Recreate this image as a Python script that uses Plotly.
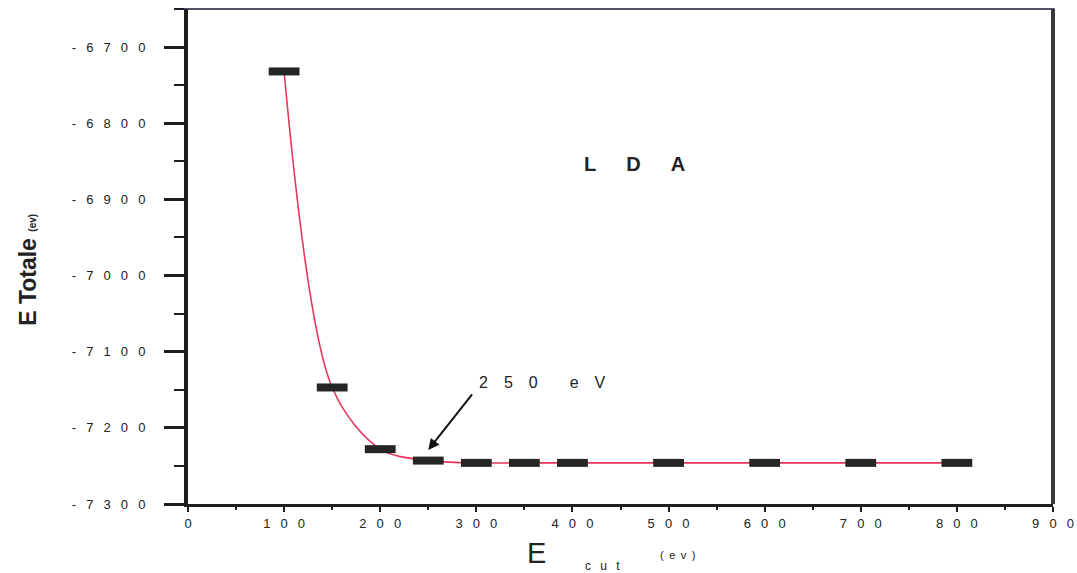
import plotly.graph_objects as go

# Cut-off energy convergence (LDA)
E_CUT = [100, 150, 200, 250, 300, 350, 400, 500, 600, 700, 800]
E_TOT = [-6732, -7147, -7228, -7243, -7246, -7246, -7246, -7246, -7246, -7246, -7246]

X_TICKS = [0, 100, 200, 300, 400, 500, 600, 700, 800, 900]
Y_TICKS = [-7300, -7200, -7100, -7000, -6900, -6800, -6700]

EM = "\u2003"
EN = "\u2002"


def spaced(s, gap=EM):
    return gap.join(str(s))


FONT = "Arial, Liberation Sans, sans-serif"
INK = "#2b2b2b"

fig = go.Figure()

# fitted convergence curve
fig.add_trace(go.Scatter(
    x=E_CUT, y=E_TOT, mode="lines",
    line=dict(color="#e8365c", width=1.6, shape="spline", smoothing=0.9),
    hoverinfo="skip", showlegend=False,
))

# computed points (bar-shaped markers)
fig.add_trace(go.Scatter(
    x=E_CUT, y=E_TOT, mode="markers",
    marker=dict(symbol="line-ew", size=22,
                line=dict(color="#262626", width=8)),
    showlegend=False,
))

fig.update_layout(
    width=1077, height=573,
    margin=dict(l=188, r=24, t=9, b=69),
    paper_bgcolor="white", plot_bgcolor="white",
    font=dict(family=FONT, color=INK),
    xaxis=dict(
        range=[0, 900], tickmode="array", tickvals=X_TICKS,
        ticktext=[spaced(v, EN + " ") for v in X_TICKS],
        showgrid=False, zeroline=False, automargin=False,
        showline=True, linecolor="#1e1e1e", linewidth=3,
        ticks="outside", ticklen=5, tickwidth=2, tickcolor="#1e1e1e",
        minor=dict(ticks="outside", ticklen=3, tickwidth=2,
                   tickcolor="#1e1e1e", dtick=50, showgrid=False),
        tickfont=dict(size=13, color="#222", family=FONT),
    ),
    yaxis=dict(
        range=[-7300, -6650], tickmode="array", tickvals=Y_TICKS,
        ticktext=[spaced("-" + str(abs(v)), EN + " ") for v in Y_TICKS],
        showgrid=False, zeroline=False, automargin=False,
        showline=True, linecolor="#1e1e1e", linewidth=4,
        ticks="outside", ticklen=20, tickwidth=3, tickcolor="#1e1e1e",
        minor=dict(ticks="outside", ticklen=10, tickwidth=2,
                   tickcolor="#1e1e1e", dtick=50, showgrid=False),
        tickfont=dict(size=13, color="#222", family=FONT),
        ticklabelstandoff=16,
    ),
)

# frame: thin top edge, heavy right edge
fig.add_shape(type="line", xref="paper", yref="paper",
              x0=-0.01, x1=1.002, y0=1, y1=1,
              line=dict(color="#1a1a3a", width=1.5))
fig.add_shape(type="line", xref="paper", yref="paper",
              x0=1, x1=1, y0=0, y1=1,
              line=dict(color="#3a3a3a", width=4))

# method label
fig.add_annotation(x=465, y=-6854, xref="x", yref="y", showarrow=False,
                   text="<b>" + spaced("LDA", EM + EN) + "</b>",
                   font=dict(size=20, color="#222", family=FONT))

# converged cut-off marker
fig.add_annotation(x=250, y=-7229, xref="x", yref="y",
                   ax=45, ay=-57, axref="pixel", ayref="pixel",
                   text="", showarrow=True, arrowhead=2, arrowsize=1.1,
                   arrowwidth=2, arrowcolor="#111")
fig.add_annotation(x=369, y=-7141, xref="x", yref="y", showarrow=False,
                   text=spaced("250") + EM + EM + spaced("eV"),
                   font=dict(size=16, color="#222", family=FONT))

# x-axis title: E_cut (ev)
fig.add_annotation(x=363, y=-0.099, xref="x", yref="paper", showarrow=False,
                   xanchor="center", yanchor="middle",
                   text="E", font=dict(size=29, color="#222", family=FONT))
fig.add_annotation(x=431, y=-0.125, xref="x", yref="paper", showarrow=False,
                   xanchor="center", yanchor="middle",
                   text=spaced("cut", EN + " "), font=dict(size=12, color="#222", family=FONT))
fig.add_annotation(x=509, y=-0.103, xref="x", yref="paper", showarrow=False,
                   xanchor="center", yanchor="middle",
                   text=spaced("(ev)", EN), font=dict(size=11, color="#222", family=FONT))

# y-axis title
fig.add_annotation(x=-0.185, y=0.473, xref="paper", yref="paper",
                   xanchor="center", yanchor="middle",
                   showarrow=False, textangle=-90,
                   text="<b>E Totale</b> <span style='font-size:10px'><b>(ev)</b></span>",
                   font=dict(size=23, color="#222", family=FONT))

fig.write_html("out.html")
